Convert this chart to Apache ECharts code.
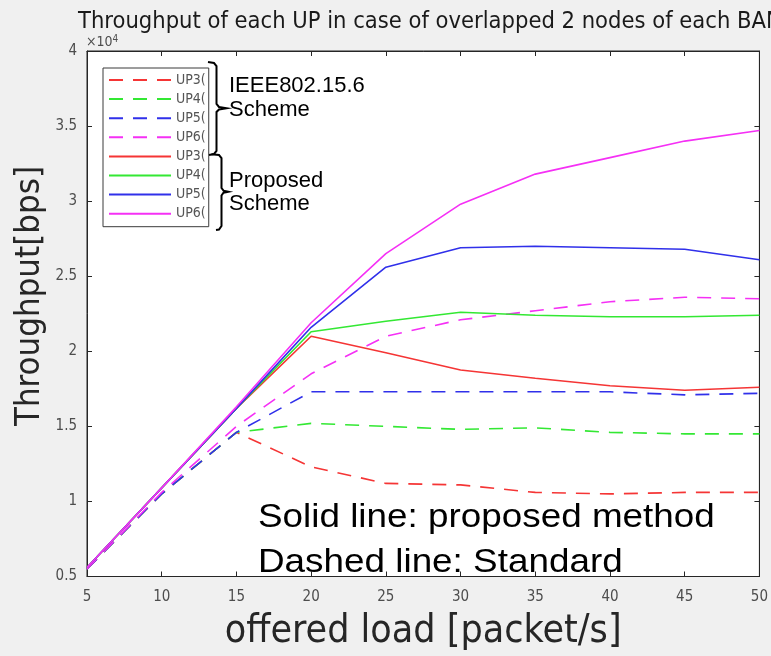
<!DOCTYPE html>
<html>
<head>
<meta charset="utf-8">
<script src="https://cdn.jsdelivr.net/npm/echarts@6/dist/echarts.min.js"></script>
<style>
html,body{margin:0;padding:0;background:#f0f0f0;}
#chart{width:771px;height:656px;}
</style>
</head>
<body>
<div id="chart"></div>
<script>
// offered load [packet/s]
const offeredLoad = [5, 10, 15, 20, 25, 30, 35, 40, 45, 50];
// Throughput (x10^4 bps) - IEEE802.15.6 scheme (dashed)
const stdUP3 = [0.55, 1.05, 1.46, 1.23, 1.12, 1.11, 1.06, 1.05, 1.06, 1.06];
const stdUP4 = [0.55, 1.05, 1.46, 1.52, 1.50, 1.48, 1.49, 1.46, 1.45, 1.45];
const stdUP5 = [0.55, 1.05, 1.46, 1.73, 1.73, 1.73, 1.73, 1.73, 1.71, 1.72];
const stdUP6 = [0.55, 1.06, 1.50, 1.85, 2.10, 2.21, 2.27, 2.33, 2.36, 2.35];
// Throughput (x10^4 bps) - Proposed scheme (solid)
const propUP3 = [0.56, 1.09, 1.62, 2.10, 1.99, 1.875, 1.82, 1.77, 1.74, 1.76];
const propUP4 = [0.56, 1.09, 1.62, 2.13, 2.20, 2.26, 2.24, 2.23, 2.23, 2.24];
const propUP5 = [0.56, 1.09, 1.62, 2.16, 2.56, 2.69, 2.70, 2.69, 2.68, 2.61];
const propUP6 = [0.56, 1.09, 1.63, 2.19, 2.65, 2.98, 3.18, 3.29, 3.40, 3.47];
// tick labels
const xTicks = ['5','10','15','20','25','30','35','40','45','50'];
const yTicks = ['0.5','1','1.5','2','2.5','3','3.5','4'];
const seriesNames = ['UP3(IEEE802.15.6)','UP4(IEEE802.15.6)','UP5(IEEE802.15.6)','UP6(IEEE802.15.6)',
                     'UP3(Proposed)','UP4(Proposed)','UP5(Proposed)','UP6(Proposed)'];

const colors = ['#f53535', '#33e833', '#3030ea', '#f530f5'];
const narrow = "'DejaVu Sans Condensed','Liberation Sans Narrow','Liberation Sans',sans-serif";
const sans = "'Liberation Sans',Arial,sans-serif";

const allData = [stdUP3, stdUP4, stdUP5, stdUP6, propUP3, propUP4, propUP5, propUP6];
const series = allData.map((arr, i) => ({
  name: seriesNames[i],
  type: 'line',
  symbol: 'none',
  xAxisIndex: 0,
  yAxisIndex: 0,
  data: offeredLoad.map((x, j) => [x, arr[j]]),
  lineStyle: { color: colors[i % 4], width: 1.6, type: i < 4 ? [14, 10] : 'solid' },
  itemStyle: { color: colors[i % 4] },
  z: i < 4 ? 2 : 3
}));

const chart = echarts.init(document.getElementById('chart'), null, {renderer: 'canvas'});
const axisCommon = {
  type: 'value',
  axisLine: { show: true, lineStyle: { color: '#262626', width: 1 } },
  axisTick: { show: true, inside: true, length: 5, lineStyle: { color: '#262626' } },
  splitLine: { show: false }
};
chart.setOption({
  backgroundColor: '#f0f0f0',
  animation: false,
  title: {
    text: 'Throughput of each UP in case of overlapped 2 nodes of each BAN',
    left: 73, top: 5,
    textStyle: { fontFamily: narrow, fontSize: 23.5, fontWeight: 'normal', color: '#1a1a1a' }
  },
  grid: { left: 87, right: 10, top: 51, bottom: 73, show: true, backgroundColor: '#ffffff', borderColor: '#262626', borderWidth: 1 },
  legend: {
    orient: 'vertical', left: 103, top: 68,
    backgroundColor: '#ffffff', borderColor: '#3a3a3a', borderWidth: 1,
    padding: [5, 3, 6, 5],
    itemWidth: 62, itemHeight: 14, itemGap: 5.1,
    itemStyle: { opacity: 0 },
    data: seriesNames,
    formatter: name => name.slice(0, 4),
    textStyle: { fontFamily: narrow, fontSize: 14, color: '#555' }
  },
  xAxis: [
    Object.assign({}, axisCommon, {
      min: 5, max: 50, interval: 5, position: 'bottom',
      axisLabel: { color: '#4d4d4d', fontFamily: narrow, fontSize: 15, margin: 13,
        formatter: v => xTicks[offeredLoad.indexOf(v)] || String(v) },
      name: 'offered load [packet/s]', nameLocation: 'middle', nameGap: 55,
      nameTextStyle: { fontFamily: narrow, fontSize: 39, color: '#262626', verticalAlign: 'middle' }
    }),
    Object.assign({}, axisCommon, { min: 5, max: 50, interval: 5, position: 'top', axisLabel: { show: false } })
  ],
  yAxis: [
    Object.assign({}, axisCommon, {
      min: 0.5, max: 4, interval: 0.5, position: 'left',
      axisLabel: { color: '#4d4d4d', fontFamily: narrow, fontSize: 15, margin: 10,
        formatter: v => { const s = String(Math.round(v * 10) / 10); return yTicks.indexOf(s) >= 0 ? s : ''; } }
    }),
    Object.assign({}, axisCommon, { min: 0.5, max: 4, interval: 0.5, position: 'right', axisLabel: { show: false } })
  ],
  series: series,
  graphic: [
    { type: 'text', x: 30, y: 296, rotation: Math.PI / 2, z: 10,
      style: { text: 'Throughput[bps]', fill: '#262626', font: '34.5px ' + narrow, align: 'center', verticalAlign: 'middle' } },
    { type: 'text', left: 86, top: 34, z: 10,
      style: { text: '×10{s|4}', fill: '#4d4d4d', font: '14px ' + narrow,
        rich: { s: { fontSize: 10, verticalAlign: 'top', fill: '#4d4d4d', fontFamily: narrow, padding: [0,0,7,0] } } } },
    { type: 'text', x: 229, y: 73.5, z: 10,
      style: { text: 'IEEE802.15.6\nScheme', fill: '#000', font: '22px ' + sans, lineHeight: 24 } },
    { type: 'text', x: 229, y: 169, z: 10,
      style: { text: 'Proposed\nScheme', fill: '#000', font: '22px ' + sans, lineHeight: 23 } },
    { type: 'polyline', z: 10,
      shape: { points: [[208,62],[214,63],[216.5,66],[216.5,104],[219,107],[226.5,108.3],[219,109.5],[216.5,112],[216.5,151],[214,154],[209,155]] },
      style: { stroke: '#000', lineWidth: 2, fill: null } },
    { type: 'polyline', z: 10,
      shape: { points: [[211.5,154.3],[219,155],[221.5,158],[221.5,188],[223.5,190.7],[228.3,191.7],[223.5,192.7],[221.5,195.5],[221.5,226],[219,229.5],[216,230]] },
      style: { stroke: '#000', lineWidth: 2, fill: null } },
    { type: 'text', x: 258, y: 501, scaleX: 1.1, z: 10,
      style: { text: 'Solid line: proposed method', fill: '#000', font: '33.5px ' + sans } },
    { type: 'text', x: 258, y: 546, scaleX: 1.1, z: 10,
      style: { text: 'Dashed line: Standard', fill: '#000', font: '33.5px ' + sans } }
  ]
});
</script>
</body>
</html>
